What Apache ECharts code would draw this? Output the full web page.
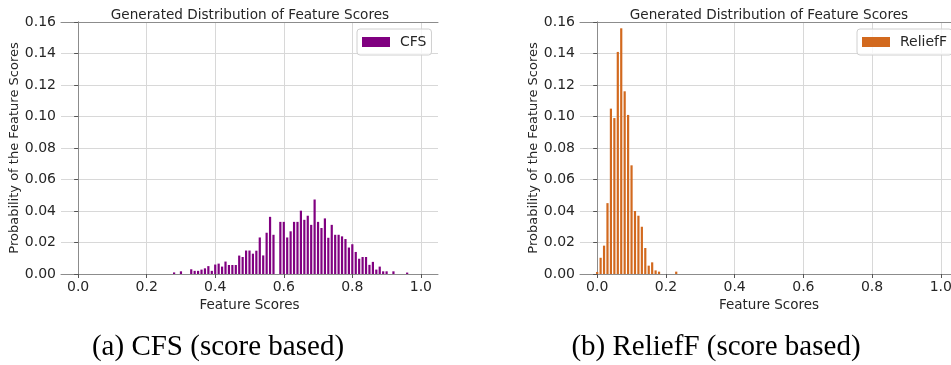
<!DOCTYPE html>
<html>
<head>
<meta charset="utf-8">
<script src="https://cdn.jsdelivr.net/npm/echarts@6/dist/echarts.min.js"></script>
<style>
  html, body { margin: 0; padding: 0; background: #fff; overflow: hidden; }
  #chart { width: 960px; height: 365px; }
</style>
</head>
<body>
<div id="chart"></div>
<script>
// Histogram bin centres (width 0.01) and probabilities per bin
const cfsScores = [0.28, 0.30, 0.33, 0.34, 0.35, 0.36, 0.37, 0.38, 0.39, 0.40,
  0.41, 0.42, 0.43, 0.44, 0.45, 0.46, 0.47, 0.48, 0.49, 0.50,
  0.51, 0.52, 0.53, 0.54, 0.55, 0.56, 0.57, 0.59, 0.60, 0.61,
  0.62, 0.63, 0.64, 0.65, 0.66, 0.67, 0.68, 0.69, 0.70, 0.71,
  0.72, 0.73, 0.74, 0.75, 0.76, 0.77, 0.78, 0.79, 0.80, 0.81,
  0.82, 0.83, 0.84, 0.85, 0.86, 0.87, 0.88, 0.89, 0.90, 0.92, 0.96];
const cfsProb = [0.0010, 0.0017, 0.0030, 0.0020, 0.0020, 0.0028, 0.0036, 0.0050, 0.0020, 0.0060,
  0.0066, 0.0047, 0.0079, 0.0057, 0.0057, 0.0057, 0.0117, 0.0108, 0.0149, 0.0149,
  0.0129, 0.0148, 0.0232, 0.0118, 0.0262, 0.0363, 0.0249, 0.0331, 0.0331, 0.0232,
  0.0271, 0.0331, 0.0331, 0.0402, 0.0344, 0.0370, 0.0312, 0.0473, 0.0331, 0.0292,
  0.0353, 0.0230, 0.0312, 0.0249, 0.0249, 0.0239, 0.0222, 0.0168, 0.0189, 0.0140,
  0.0097, 0.0108, 0.0108, 0.0058, 0.0077, 0.0028, 0.0047, 0.0017, 0.0017, 0.0017, 0.0009];

const reliefScores = [0.00, 0.01, 0.02, 0.03, 0.04, 0.05, 0.06, 0.07, 0.08, 0.09,
  0.10, 0.11, 0.12, 0.13, 0.14, 0.15, 0.16, 0.17, 0.18, 0.23];
const reliefProb = [0.0013, 0.0103, 0.0180, 0.0450, 0.1050, 0.0990, 0.1410, 0.1560, 0.1160, 0.1010,
  0.0690, 0.0400, 0.0370, 0.0300, 0.0165, 0.0053, 0.0074, 0.0023, 0.0015, 0.0015];

const xTicks = [0, 0.2, 0.4, 0.6, 0.8, 1.0];

const titleText = 'Generated Distribution of Feature Scores';
const xName = 'Feature Scores';
const yName = 'Probability of the Feature Scores';
const captions = ['(a) CFS (score based)', '(b) ReliefF (score based)'];

const FONT = '"DejaVu Sans", sans-serif';
const TXT = '#262626';

const pairs = (xs, ys) => xs.map((x, i) => [x, ys[i]]);

function xAxisFor(gridIndex) {
  return {
    type: 'value', gridIndex, min: -0.05, max: 1.05,
    name: xName, nameLocation: 'middle', nameGap: 16,
    nameTextStyle: { fontFamily: FONT, fontSize: 13.5, color: TXT },
    axisLine: { show: true, onZero: false, lineStyle: { color: '#8c8c8c', width: 1 } },
    axisTick: { show: true, length: 4, customValues: xTicks, lineStyle: { color: '#555' } },
    axisLabel: { customValues: xTicks, margin: 6, fontFamily: FONT, fontSize: 14, color: TXT,
      formatter: v => v.toFixed(1) },
    splitLine: { show: true, lineStyle: { color: '#d8d8d8', width: 1 } }
  };
}
function xFrameFor(gridIndex) {
  return {
    type: 'value', gridIndex, position: 'top', min: -0.05, max: 1.05,
    axisLine: { show: true, onZero: false, lineStyle: { color: '#8c8c8c', width: 1 } },
    axisTick: { show: false }, axisLabel: { show: false }, splitLine: { show: false }
  };
}
function yAxisFor(gridIndex) {
  return {
    type: 'value', gridIndex, min: 0, max: 0.16, interval: 0.02,
    name: yName, nameLocation: 'middle', nameGap: 38,
    nameTextStyle: { fontFamily: FONT, fontSize: 13, color: TXT },
    axisLine: { show: true, lineStyle: { color: '#8c8c8c', width: 1 } },
    axisTick: { show: true, length: 4, lineStyle: { color: '#555' } },
    axisLabel: { margin: 5, fontFamily: FONT, fontSize: 14, color: TXT,
      formatter: v => v.toFixed(2) },
    splitLine: { show: true, lineStyle: { color: '#d8d8d8', width: 1 } }
  };
}
function yFrameFor(gridIndex) {
  return {
    type: 'value', gridIndex, position: 'right', min: 0, max: 0.16,
    axisLine: { show: true, lineStyle: { color: '#8c8c8c', width: 1 } },
    axisTick: { show: false }, axisLabel: { show: false }, splitLine: { show: false }
  };
}

function legendFor(name, left) {
  return {
    data: [name], left, top: 29, orient: 'vertical',
    icon: 'rect', itemWidth: 28, itemHeight: 10, itemGap: 0,
    padding: [6, 5, 6, 5],
    backgroundColor: 'rgba(255,255,255,0.8)',
    borderColor: '#d0d0d0', borderWidth: 1, borderRadius: 3,
    textStyle: { fontFamily: FONT, fontSize: 14, color: TXT, padding: [0, 0, 0, 5] }
  };
}

const chart = echarts.init(document.getElementById('chart'), null, { renderer: 'canvas' });
chart.setOption({
  animation: false,
  backgroundColor: '#fff',
  grid: [
    { left: 61, top: 22, width: 377, height: 252 },
    { left: 580, top: 22, width: 378, height: 252 }
  ],
  xAxis: [xAxisFor(0), xAxisFor(1), xFrameFor(0), xFrameFor(1)],
  yAxis: [yAxisFor(0), yAxisFor(1), yFrameFor(0), yFrameFor(1)],
  legend: [legendFor('CFS', 357), legendFor('ReliefF', 857)],
  series: [
    { name: 'CFS', type: 'bar', xAxisIndex: 0, yAxisIndex: 0, barWidth: 2.2,
      itemStyle: { color: '#800080' }, data: pairs(cfsScores, cfsProb) },
    { name: 'ReliefF', type: 'bar', xAxisIndex: 1, yAxisIndex: 1, barWidth: 2.2,
      itemStyle: { color: '#d2691e' }, data: pairs(reliefScores, reliefProb) }
  ],
  graphic: [
    { type: 'text', x: 250, y: 15, style: { text: titleText, fill: TXT, font: '13.6px ' + FONT,
      textAlign: 'center', textVerticalAlign: 'middle' } },
    { type: 'text', x: 769, y: 15, style: { text: titleText, fill: TXT, font: '13.6px ' + FONT,
      textAlign: 'center', textVerticalAlign: 'middle' } },
    { type: 'text', x: 218, y: 347, style: { text: captions[0], fill: '#000',
      font: '29px "Liberation Serif", "Times New Roman", serif', textAlign: 'center', textVerticalAlign: 'middle' } },
    { type: 'text', x: 716, y: 347, style: { text: captions[1], fill: '#000',
      font: '29px "Liberation Serif", "Times New Roman", serif', textAlign: 'center', textVerticalAlign: 'middle' } }
  ]
});
</script>
</body>
</html>
